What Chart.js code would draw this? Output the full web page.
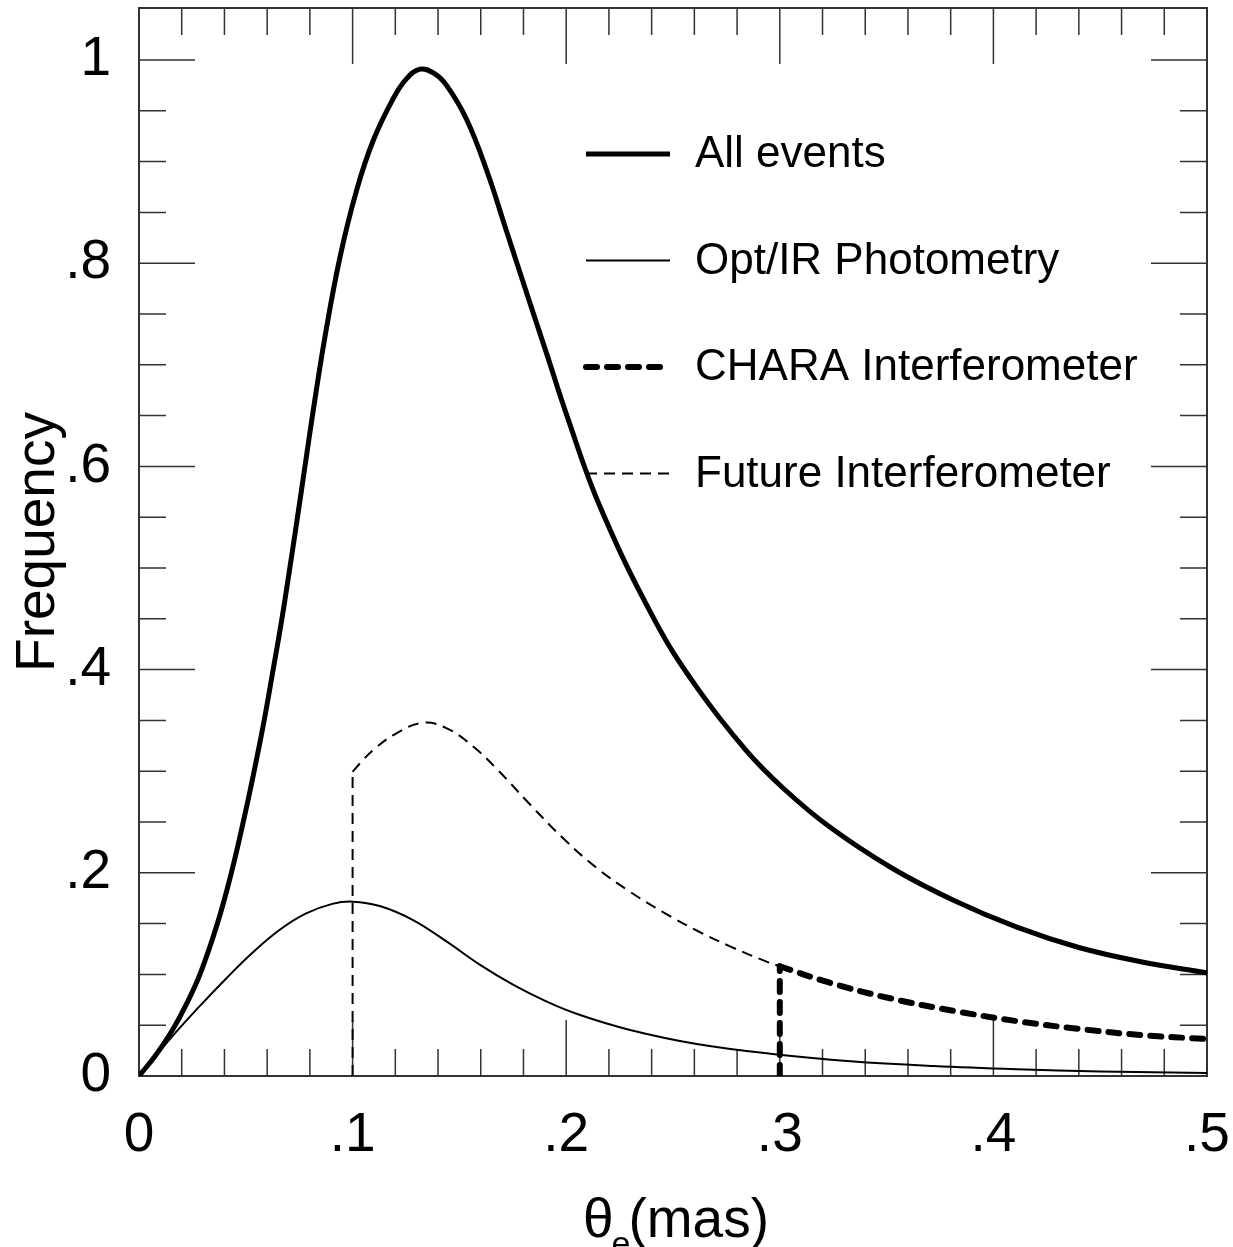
<!DOCTYPE html>
<html>
<head>
<meta charset="utf-8">
<script src="https://cdn.jsdelivr.net/npm/chart.js@4.4.1/dist/chart.umd.min.js"></script>
<style>
html,body{margin:0;padding:0;background:#fff;}
canvas{display:block;}
</style>
</head>
<body>
<canvas id="c" width="1233" height="1247"></canvas>
<script>
// ---------------- data ----------------
const allEventsX = [0, 0.008, 0.0156, 0.0225, 0.0289, 0.0367, 0.043, 0.0488, 0.0539, 0.0586, 0.0628, 0.0669, 0.0706, 0.0742, 0.0777, 0.0812, 0.0871, 0.0941, 0.1019, 0.1097, 0.119, 0.125, 0.1316, 0.138, 0.144, 0.1535, 0.163, 0.172, 0.1816, 0.191, 0.200, 0.2159, 0.2416, 0.261, 0.2844, 0.302, 0.3234, 0.3526, 0.3818, 0.411, 0.440, 0.469, 0.5];
const allEventsY = [0, 0.021, 0.045, 0.072, 0.102, 0.150, 0.198, 0.250, 0.300, 0.350, 0.400, 0.450, 0.500, 0.550, 0.600, 0.650, 0.728, 0.806, 0.872, 0.921, 0.962, 0.981, 0.991, 0.987, 0.975, 0.941, 0.890, 0.832, 0.770, 0.710, 0.652, 0.560, 0.448, 0.383, 0.320, 0.2825, 0.245, 0.2045, 0.1725, 0.1465, 0.1265, 0.1125, 0.1015];

const photometryX = [0, 0.0156, 0.0281, 0.0406, 0.0531, 0.0656, 0.078, 0.0905, 0.1, 0.1127, 0.1283, 0.1441, 0.1597, 0.1753, 0.1909, 0.2065, 0.2299, 0.2611, 0.2986, 0.3331, 0.372, 0.411, 0.45, 0.5];
const photometryY = [0, 0.039, 0.068, 0.0955, 0.1213, 0.1435, 0.1598, 0.1694, 0.1716, 0.1673, 0.1535, 0.1322, 0.1093, 0.0896, 0.0732, 0.060, 0.0453, 0.0315, 0.0212, 0.0146, 0.0099, 0.0067, 0.0045, 0.003];

const futureDropX = [0.1, 0.1];
const futureDropY = [0, 0.2995];
const futureX = [0.1, 0.1035, 0.1097, 0.1205, 0.133, 0.1441, 0.1566, 0.1675, 0.1831, 0.1987, 0.2143, 0.23, 0.2455, 0.2611, 0.2767, 0.2935, 0.3];
const futureY = [0.2995, 0.3078, 0.321, 0.3373, 0.3477, 0.3422, 0.3241, 0.3023, 0.2672, 0.2337, 0.2048, 0.1812, 0.1611, 0.1432, 0.1276, 0.1128, 0.108];

const charaDropX = [0.3, 0.3];
const charaDropY = [0, 0.108];
const charaX = [0.3, 0.3234, 0.3526, 0.3818, 0.411, 0.4402, 0.4694, 0.5];
const charaY = [0.108, 0.0918, 0.076, 0.064, 0.054, 0.0463, 0.0403, 0.0364];

const legendLabels = ['All events', 'Opt/IR Photometry', 'CHARA Interferometer', 'Future Interferometer'];

const xTickValues = [0, 0.1, 0.2, 0.3, 0.4, 0.5];
const xTickLabels = ['0', '.1', '.2', '.3', '.4', '.5'];
const yTickValues = [0, 0.2, 0.4, 0.6, 0.8, 1.0];
const yTickLabels = ['0', '.2', '.4', '.6', '.8', '1'];
const xMinorTicks = [0.02, 0.04, 0.06, 0.08, 0.12, 0.14, 0.16, 0.18, 0.22, 0.24, 0.26, 0.28, 0.32, 0.34, 0.36, 0.38, 0.42, 0.44, 0.46, 0.48];
const xMajorTicks = [0.1, 0.2, 0.3, 0.4];
const yMinorTicks = [0.05, 0.1, 0.15, 0.25, 0.3, 0.35, 0.45, 0.5, 0.55, 0.65, 0.7, 0.75, 0.85, 0.9, 0.95];
const yMajorTicks = [0.2, 0.4, 0.6, 0.8, 1.0];
const xTitleMain = 'θ';
const xTitleSub = 'e';
const xTitleUnit = '(mas)';
const yTitle = 'Frequency';

// ---------------- chart ----------------
const FONT = '"Liberation Sans", Arial, Helvetica, sans-serif';
Chart.defaults.font.family = FONT;
Chart.defaults.color = '#000';

const pts = (xs, ys) => xs.map((x, i) => ({x: x, y: ys[i]}));

const styles = {
  all:   {borderColor: '#000', borderWidth: 5, borderDash: [], borderCapStyle: 'butt'},
  phot:  {borderColor: '#000', borderWidth: 2, borderDash: [], borderCapStyle: 'butt'},
  chara: {borderColor: '#000', borderWidth: 6, borderDash: [11, 10], borderCapStyle: 'round'},
  fut:   {borderColor: '#000', borderWidth: 2, borderDash: [11, 7], borderCapStyle: 'butt'}
};

const curve = {tension: 0.4, cubicInterpolationMode: 'default'};
const datasets = [
  Object.assign({label: legendLabels[0], data: pts(allEventsX, allEventsY)}, curve, styles.all),
  Object.assign({label: legendLabels[1], data: pts(photometryX, photometryY)}, curve, styles.phot),
  Object.assign({label: legendLabels[2], data: pts(charaX, charaY)}, curve, styles.chara),
  Object.assign({label: legendLabels[3], data: pts(futureX, futureY)}, curve, styles.fut),
  Object.assign({label: 'chara-drop', data: pts(charaDropX, charaDropY), tension: 0, hideLegend: true}, styles.chara),
  Object.assign({label: 'future-drop', data: pts(futureDropX, futureDropY), tension: 0, hideLegend: true}, styles.fut)
];
datasets.forEach(d => { d.pointRadius = 0; d.fill = false; d.backgroundColor = '#000'; });

const frameTicks = {
  id: 'frameTicks',
  beforeDatasetsDraw(chart) {
    const {ctx, chartArea: a, scales} = chart;
    const x = scales.x, y = scales.y;
    ctx.save();
    ctx.strokeStyle = '#333';
    ctx.lineWidth = 1.5;
    ctx.beginPath();
    const vt = (vals, len) => vals.forEach(v => {
      const px = x.getPixelForValue(v);
      ctx.moveTo(px, a.bottom); ctx.lineTo(px, a.bottom - len);
      ctx.moveTo(px, a.top); ctx.lineTo(px, a.top + len);
    });
    const ht = (vals, len) => vals.forEach(v => {
      const py = y.getPixelForValue(v);
      ctx.moveTo(a.left, py); ctx.lineTo(a.left + len, py);
      ctx.moveTo(a.right, py); ctx.lineTo(a.right - len, py);
    });
    vt(xMinorTicks, 27); vt(xMajorTicks, 56);
    ht(yMinorTicks, 27); ht(yMajorTicks, 56);
    ctx.stroke();
    ctx.lineWidth = 2;
    ctx.strokeRect(a.left, a.top, a.right - a.left, a.bottom - a.top);
    ctx.restore();
  }
};

const legendAndTitle = {
  id: 'legendAndTitle',
  afterDraw(chart) {
    const {ctx, chartArea: a} = chart;
    ctx.save();
    // legend
    const x0 = a.left + 447, x1 = a.left + 531, tx = a.left + 556;
    let row = 0;
    chart.data.datasets.forEach(d => {
      if (d.hideLegend) return;
      const yy = a.top + 146 + row * 106.5;
      ctx.beginPath();
      ctx.strokeStyle = d.borderColor;
      ctx.lineWidth = d.borderWidth;
      ctx.setLineDash(d.borderDash);
      ctx.lineCap = d.borderCapStyle;
      ctx.moveTo(x0, yy); ctx.lineTo(x1, yy);
      ctx.stroke();
      ctx.setLineDash([]);
      ctx.fillStyle = '#000';
      ctx.font = '44px ' + FONT;
      ctx.textBaseline = 'middle';
      ctx.textAlign = 'left';
      ctx.fillText(d.label, tx, yy + 1);
      row++;
    });
    // x-axis title with subscript
    const big = '55px ' + FONT, small = '34px ' + FONT;
    ctx.font = big; const w1 = ctx.measureText(xTitleMain).width;
    ctx.font = small; const w2 = ctx.measureText(xTitleSub).width;
    ctx.font = big; const w3 = ctx.measureText(xTitleUnit).width;
    const total = w1 + w2 + w3 - 4;
    let sx = (a.left + a.right) / 2 + 3 - total / 2;
    const base = a.bottom + 161;
    ctx.textBaseline = 'alphabetic';
    ctx.textAlign = 'left';
    ctx.fillStyle = '#000';
    ctx.font = big; ctx.fillText(xTitleMain, sx, base);
    ctx.font = small; ctx.fillText(xTitleSub, sx + w1 - 2, base + 18);
    ctx.font = big; ctx.fillText(xTitleUnit, sx + w1 + w2 - 4, base);
    ctx.restore();
  }
};

new Chart(document.getElementById('c'), {
  type: 'line',
  data: {datasets: datasets},
  options: {
    responsive: false,
    animation: false,
    devicePixelRatio: 1,
    layout: {padding: {top: 8, right: 26, bottom: 0, left: 0}},
    plugins: {legend: {display: false}, tooltip: {enabled: false}},
    scales: {
      x: {
        type: 'linear', min: 0, max: 0.5,
        grid: {display: false, drawTicks: false},
        border: {display: false},
        afterBuildTicks: s => { s.ticks = xTickValues.map(v => ({value: v})); },
        afterFit: s => { s.height = 171; s.paddingLeft = 0; s.paddingRight = 0; },
        ticks: {
          autoSkip: false, maxRotation: 0, minRotation: 0,
          padding: 27, color: '#000', font: {size: 55},
          callback: v => xTickLabels[xTickValues.indexOf(v)]
        },
        title: {display: false}
      },
      y: {
        type: 'linear', min: 0, max: 1.0512,
        grid: {display: false, drawTicks: false},
        border: {display: false},
        afterBuildTicks: s => { s.ticks = yTickValues.map(v => ({value: v})); },
        afterFit: s => { s.width = 139; s.paddingTop = 0; s.paddingBottom = 0; },
        ticks: {
          autoSkip: false, padding: 28, color: '#000', font: {size: 55},
          callback: v => yTickLabels[yTickValues.indexOf(v)]
        },
        title: {display: true, text: yTitle, color: '#000', font: {size: 55}, padding: {top: 6, bottom: 0}}
      }
    }
  },
  plugins: [frameTicks, legendAndTitle]
});
</script>
</body>
</html>
